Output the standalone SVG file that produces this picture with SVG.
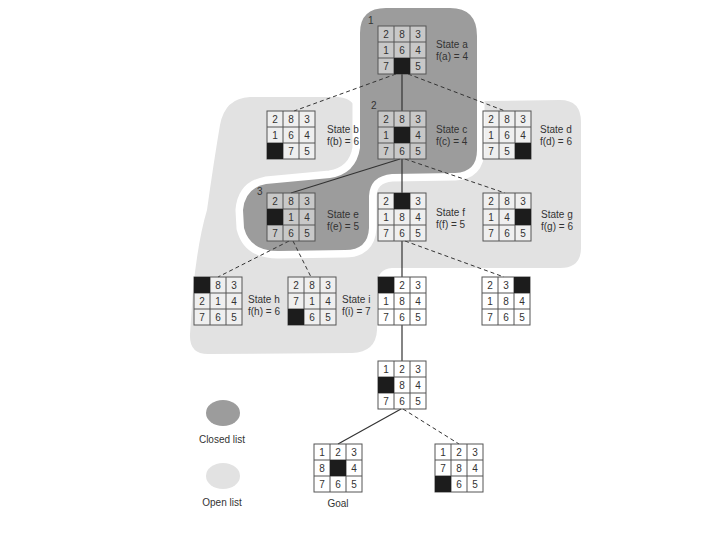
<svg xmlns="http://www.w3.org/2000/svg" xmlns:xlink="http://www.w3.org/1999/xlink" width="720" height="540" viewBox="0 0 720 540">
<style>
text{font-family:"Liberation Sans",Arial,sans-serif;font-size:10px;fill:#333}
.d{text-anchor:middle}
.lab{text-anchor:start}
.cell{fill:#fff;fill-opacity:.45;stroke:#555;stroke-width:1}
.gl{stroke:#555;stroke-width:1;fill:none}
.blank{fill:#1c1c1c}
.solid{stroke:#333;stroke-width:1.2;fill:none}
.dash{stroke:#333;stroke-width:1;fill:none;stroke-dasharray:4 3}
</style>
<defs>
<g id="grid">
<rect class="cell" x="0" y="0" width="48" height="48"/>
<path class="gl" d="M16,0V48M32,0V48M0,16H48M0,32H48"/>
</g>
</defs>
<rect width="720" height="540" fill="#fff"/>
<g id="regions">
<path id="open-region" fill="#e2e2e2" d="M250,97 L338,97 C352,98 357,106 358,118 L470,118 L470,100 L485,101 L560,100 Q581,100 581,122 L581,248 Q581,268 560,268 L392,268 Q377,269 377,286 L377,330 Q376,352 352,353 L208,354 Q189,354 190,334 L193,290 Q198,240 207,210 Q214,160 220,125 Q225,98 250,97 Z"/>
<path id="closed-region" fill="#9c9c9c" stroke="#fff" stroke-width="15" paint-order="stroke" stroke-linejoin="round" d="M386,8 L450,8 Q477,8 477,36 L477,150 Q477,172 455,173 L392,174 Q370,176 369,196 L369,228 Q368,250 345,250 L278,251 Q250,251 244,228 L243,210 Q245,188 266,184 L330,178 Q356,174 360,148 L360,33 Q360,8 386,8 Z"/>
</g>
<g id="connectors">
<line class="dash" x1="396" y1="74" x2="294" y2="111"/>
<line class="solid" x1="402" y1="74" x2="402" y2="111"/>
<line class="dash" x1="408" y1="74" x2="505" y2="111"/>
<line class="solid" x1="400" y1="159" x2="291" y2="193"/>
<line class="solid" x1="402" y1="159" x2="402" y2="193"/>
<line class="dash" x1="405" y1="159" x2="505" y2="193"/>
<line class="dash" x1="289" y1="241" x2="218" y2="277"/>
<line class="dash" x1="293" y1="241" x2="311" y2="277"/>
<line class="solid" x1="402" y1="241" x2="402" y2="277"/>
<line class="dash" x1="405" y1="241" x2="504" y2="277"/>
<line class="solid" x1="402" y1="325" x2="402" y2="361"/>
<line class="solid" x1="401" y1="409" x2="338" y2="444"/>
<line class="dash" x1="403" y1="409" x2="459" y2="444" stroke-width="0.8"/>
</g>
<g id="state-a" transform="translate(378,26)">
<use xlink:href="#grid"/><rect class="blank" x="16" y="32" width="16" height="16"/>
<text class="d" x="8" y="11.5">2</text><text class="d" x="24" y="11.5">8</text><text class="d" x="40" y="11.5">3</text>
<text class="d" x="8" y="27.5">1</text><text class="d" x="24" y="27.5">6</text><text class="d" x="40" y="27.5">4</text>
<text class="d" x="8" y="43.5">7</text><text class="d" x="40" y="43.5">5</text>
<text class="lab" x="58" y="22">State a</text><text class="lab" x="58" y="34">f(a) = 4</text>
<text class="lab" x="-10" y="-2">1</text>
</g>
<g id="state-b" transform="translate(267,111)">
<use xlink:href="#grid"/><rect class="blank" x="0" y="32" width="16" height="16"/>
<text class="d" x="8" y="11.5">2</text><text class="d" x="24" y="11.5">8</text><text class="d" x="40" y="11.5">3</text>
<text class="d" x="8" y="27.5">1</text><text class="d" x="24" y="27.5">6</text><text class="d" x="40" y="27.5">4</text>
<text class="d" x="24" y="43.5">7</text><text class="d" x="40" y="43.5">5</text>
<text class="lab" x="60" y="22">State b</text><text class="lab" x="60" y="34">f(b) = 6</text>
</g>
<g id="state-c" transform="translate(378,111)">
<use xlink:href="#grid"/><rect class="blank" x="16" y="16" width="16" height="16"/>
<text class="d" x="8" y="11.5">2</text><text class="d" x="24" y="11.5">8</text><text class="d" x="40" y="11.5">3</text>
<text class="d" x="8" y="27.5">1</text><text class="d" x="40" y="27.5">4</text>
<text class="d" x="8" y="43.5">7</text><text class="d" x="24" y="43.5">6</text><text class="d" x="40" y="43.5">5</text>
<text class="lab" x="58" y="22">State c</text><text class="lab" x="58" y="34">f(c) = 4</text>
<text class="lab" x="-7" y="-2">2</text>
</g>
<g id="state-d" transform="translate(483,111)">
<use xlink:href="#grid"/><rect class="blank" x="32" y="32" width="16" height="16"/>
<text class="d" x="8" y="11.5">2</text><text class="d" x="24" y="11.5">8</text><text class="d" x="40" y="11.5">3</text>
<text class="d" x="8" y="27.5">1</text><text class="d" x="24" y="27.5">6</text><text class="d" x="40" y="27.5">4</text>
<text class="d" x="8" y="43.5">7</text><text class="d" x="24" y="43.5">5</text>
<text class="lab" x="57" y="22">State d</text><text class="lab" x="57" y="34">f(d) = 6</text>
</g>
<g id="state-e" transform="translate(267,193)">
<use xlink:href="#grid"/><rect class="blank" x="0" y="16" width="16" height="16"/>
<text class="d" x="8" y="11.5">2</text><text class="d" x="24" y="11.5">8</text><text class="d" x="40" y="11.5">3</text>
<text class="d" x="24" y="27.5">1</text><text class="d" x="40" y="27.5">4</text>
<text class="d" x="8" y="43.5">7</text><text class="d" x="24" y="43.5">6</text><text class="d" x="40" y="43.5">5</text>
<text class="lab" x="60" y="25">State e</text><text class="lab" x="60" y="37">f(e) = 5</text>
<text class="lab" x="-10" y="2">3</text>
</g>
<g id="state-f" transform="translate(378,193)">
<use xlink:href="#grid"/><rect class="blank" x="16" y="0" width="16" height="16"/>
<text class="d" x="8" y="11.5">2</text><text class="d" x="40" y="11.5">3</text>
<text class="d" x="8" y="27.5">1</text><text class="d" x="24" y="27.5">8</text><text class="d" x="40" y="27.5">4</text>
<text class="d" x="8" y="43.5">7</text><text class="d" x="24" y="43.5">6</text><text class="d" x="40" y="43.5">5</text>
<text class="lab" x="58" y="23">State f</text><text class="lab" x="58" y="35">f(f) = 5</text>
</g>
<g id="state-g" transform="translate(483,193)">
<use xlink:href="#grid"/><rect class="blank" x="32" y="16" width="16" height="16"/>
<text class="d" x="8" y="11.5">2</text><text class="d" x="24" y="11.5">8</text><text class="d" x="40" y="11.5">3</text>
<text class="d" x="8" y="27.5">1</text><text class="d" x="24" y="27.5">4</text>
<text class="d" x="8" y="43.5">7</text><text class="d" x="24" y="43.5">6</text><text class="d" x="40" y="43.5">5</text>
<text class="lab" x="58" y="25">State g</text><text class="lab" x="58" y="37">f(g) = 6</text>
</g>
<g id="state-h" transform="translate(194,277)">
<use xlink:href="#grid"/><rect class="blank" x="0" y="0" width="16" height="16"/>
<text class="d" x="24" y="11.5">8</text><text class="d" x="40" y="11.5">3</text>
<text class="d" x="8" y="27.5">2</text><text class="d" x="24" y="27.5">1</text><text class="d" x="40" y="27.5">4</text>
<text class="d" x="8" y="43.5">7</text><text class="d" x="24" y="43.5">6</text><text class="d" x="40" y="43.5">5</text>
<text class="lab" x="54" y="26">State h</text><text class="lab" x="54" y="38">f(h) = 6</text>
</g>
<g id="state-i" transform="translate(288,277)">
<use xlink:href="#grid"/><rect class="blank" x="0" y="32" width="16" height="16"/>
<text class="d" x="8" y="11.5">2</text><text class="d" x="24" y="11.5">8</text><text class="d" x="40" y="11.5">3</text>
<text class="d" x="8" y="27.5">7</text><text class="d" x="24" y="27.5">1</text><text class="d" x="40" y="27.5">4</text>
<text class="d" x="24" y="43.5">6</text><text class="d" x="40" y="43.5">5</text>
<text class="lab" x="54" y="26">State i</text><text class="lab" x="54" y="38">f(i) = 7</text>
</g>
<g id="state-r4l" transform="translate(378,277)">
<use xlink:href="#grid"/><rect class="blank" x="0" y="0" width="16" height="16"/>
<text class="d" x="24" y="11.5">2</text><text class="d" x="40" y="11.5">3</text>
<text class="d" x="8" y="27.5">1</text><text class="d" x="24" y="27.5">8</text><text class="d" x="40" y="27.5">4</text>
<text class="d" x="8" y="43.5">7</text><text class="d" x="24" y="43.5">6</text><text class="d" x="40" y="43.5">5</text>
</g>
<g id="state-r4r" transform="translate(482,277)">
<use xlink:href="#grid"/><rect class="blank" x="32" y="0" width="16" height="16"/>
<text class="d" x="8" y="11.5">2</text><text class="d" x="24" y="11.5">3</text>
<text class="d" x="8" y="27.5">1</text><text class="d" x="24" y="27.5">8</text><text class="d" x="40" y="27.5">4</text>
<text class="d" x="8" y="43.5">7</text><text class="d" x="24" y="43.5">6</text><text class="d" x="40" y="43.5">5</text>
</g>
<g id="state-r5" transform="translate(378,361)">
<use xlink:href="#grid"/><rect class="blank" x="0" y="16" width="16" height="16"/>
<text class="d" x="8" y="11.5">1</text><text class="d" x="24" y="11.5">2</text><text class="d" x="40" y="11.5">3</text>
<text class="d" x="24" y="27.5">8</text><text class="d" x="40" y="27.5">4</text>
<text class="d" x="8" y="43.5">7</text><text class="d" x="24" y="43.5">6</text><text class="d" x="40" y="43.5">5</text>
</g>
<g id="state-goal" transform="translate(314,444)">
<use xlink:href="#grid"/><rect class="blank" x="16" y="16" width="16" height="16"/>
<text class="d" x="8" y="11.5">1</text><text class="d" x="24" y="11.5">2</text><text class="d" x="40" y="11.5">3</text>
<text class="d" x="8" y="27.5">8</text><text class="d" x="40" y="27.5">4</text>
<text class="d" x="8" y="43.5">7</text><text class="d" x="24" y="43.5">6</text><text class="d" x="40" y="43.5">5</text>
<text class="d" x="24" y="63">Goal</text>
</g>
<g id="state-r6r" transform="translate(435,444)">
<use xlink:href="#grid"/><rect class="blank" x="0" y="32" width="16" height="16"/>
<text class="d" x="8" y="11.5">1</text><text class="d" x="24" y="11.5">2</text><text class="d" x="40" y="11.5">3</text>
<text class="d" x="8" y="27.5">7</text><text class="d" x="24" y="27.5">8</text><text class="d" x="40" y="27.5">4</text>
<text class="d" x="24" y="43.5">6</text><text class="d" x="40" y="43.5">5</text>
</g>
<g id="legend">
<ellipse cx="223" cy="413" rx="17" ry="13" fill="#9c9c9c"/>
<text class="d" x="222" y="443">Closed list</text>
<ellipse cx="223" cy="476" rx="17" ry="13" fill="#e2e2e2"/>
<text class="d" x="222" y="506">Open list</text>
</g>
</svg>
